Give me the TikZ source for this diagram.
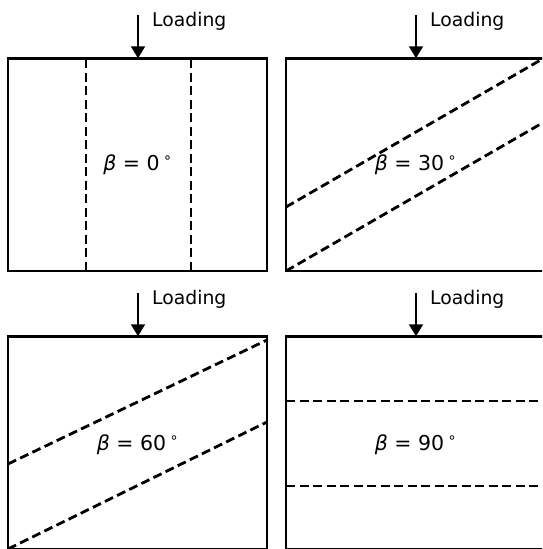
\documentclass[tikz,border=0pt]{standalone}
\usepackage{fontspec}
\setmainfont{DejaVu Sans}
\usetikzlibrary{arrows.meta,positioning}

\begin{document}
\begin{tikzpicture}[x=1pt,y=-1pt,every node/.style={font=\fontsize{18.8}{22}\selectfont,inner sep=0pt},
  specimen/.style={draw,line width=1.5pt,minimum width=259pt,minimum height=212pt},
  loadedge/.style={line width=3pt},
  crack/.style={line width=2.8pt,dash pattern=on 9pt off 4.5pt},
  load/.style={-{Triangle[length=12pt,width=14pt]},line width=2pt},
  angle/.style={font=\fontsize{20.5}{24}\selectfont}]
\useasboundingbox (0,0) rectangle (542,549);
\clip (0,0) rectangle (542,549);
% specimens
\node[specimen] (s0) at (137.5,165) {};
\node[specimen] (s30) at (415.5,165) {};
\node[specimen] (s60) at (137.5,443) {};
\node[specimen] (s90) at (415.5,443) {};
% loaded top edges and loads
\foreach \s/\x/\y in {s0/138/15,s30/416/15,s60/138/293,s90/416/293}{
  \draw[loadedge] (\s.north west) -- (\s.north east);
  \coordinate (a\s) at (\x,\y);
  \draw[load] (a\s) -- (\s.north -| a\s);
  \node[anchor=west] (l\s) at (\x+14,\y+6.5) {Loading};
}
% weak planes
\draw[crack] (86,59) -- (86,271) (191,59) -- (191,271);
\draw[crack] (286,207) -- (545,57.5) (286,271) -- (545,121.5);
\draw[crack] (8,464) -- (267,340) (8,549) -- (267,422);
\draw[crack] (286,401) -- (545,401) (286,486) -- (545,486);
% angles
\node[angle] (b0) at (138,164.5) {{\itshape β} = 0\,\textsuperscript{∘}};
\node[angle] (b30) at (416,164.5) {{\itshape β} = 30\,\textsuperscript{∘}};
\node[angle] (b60) at (138,444.5) {{\itshape β} = 60\,\textsuperscript{∘}};
\node[angle] (b90) at (416,444.5) {{\itshape β} = 90\,\textsuperscript{∘}};
\end{tikzpicture}
\end{document}
